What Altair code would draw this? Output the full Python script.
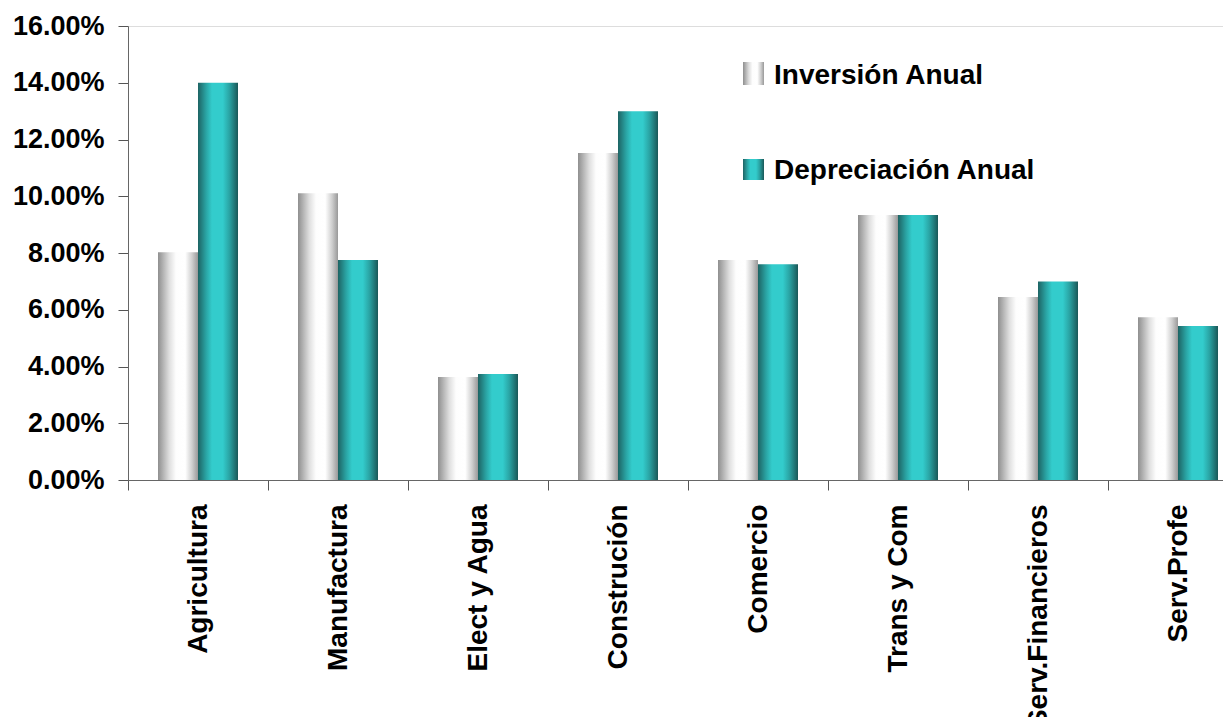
import altair as alt
import pandas as pd

categories = ["Agricultura", "Manufactura", "Elect y Agua", "Construción",
              "Comercio", "Trans y Com", "Serv.Financieros", "Serv.Profe"]
inversion = [0.0803, 0.1011, 0.0363, 0.1152, 0.0775, 0.0934, 0.0645, 0.0574]
depreciacion = [0.1400, 0.0775, 0.0374, 0.1300, 0.0760, 0.0934, 0.0700, 0.0543]
series_names = ["Inversión Anual", "Depreciación Anual"]
y_ticks = [0, 0.02, 0.04, 0.06, 0.08, 0.10, 0.12, 0.14, 0.16]

df = pd.DataFrame({"cat": categories, "inv": inversion, "dep": depreciacion})
legend_df = pd.DataFrame({"name": series_names})

gray_grad = alt.LinearGradient(
    gradient="linear", x1=0, x2=1, y1=0, y2=0,
    stops=[alt.GradientStop(color="#8f8f8f", offset=0),
           alt.GradientStop(color="#dedede", offset=0.28),
           alt.GradientStop(color="#fdfdfd", offset=0.45),
           alt.GradientStop(color="#ffffff", offset=0.68),
           alt.GradientStop(color="#cfcfcf", offset=0.85),
           alt.GradientStop(color="#999999", offset=1)])
teal_grad = alt.LinearGradient(
    gradient="linear", x1=0, x2=1, y1=0, y2=0,
    stops=[alt.GradientStop(color="#1d6363", offset=0),
           alt.GradientStop(color="#2aa3a3", offset=0.2),
           alt.GradientStop(color="#33cccc", offset=0.35),
           alt.GradientStop(color="#33cccc", offset=0.62),
           alt.GradientStop(color="#2aa5a5", offset=0.78),
           alt.GradientStop(color="#1a5858", offset=1)])

FONT = "Liberation Sans"

x_enc = alt.X("cat:N", sort=categories, title=None,
              scale=alt.Scale(paddingInner=0, paddingOuter=0, range=[0, 1120]),
              axis=alt.Axis(labelAngle=-90, labelAlign="right", labelBaseline="middle",
                            labelFont=FONT, labelFontSize=28, labelFontWeight="bold",
                            labelColor="#000000", labelPadding=14, labelLimit=400,
                            tickBand="extent", tickSize=10, tickColor="#555555",
                            domainColor="#666666", grid=False))
y_scale = alt.Scale(domain=[0, 0.16], nice=False)
y_axis = alt.Axis(format=".2%", values=y_ticks, title=None, grid=False,
                  labelFont=FONT, labelFontSize=27, labelFontWeight="bold",
                  labelColor="#000000", labelPadding=14, tickSize=10,
                  tickColor="#555555", domainColor="#666666")

bars_inv = alt.Chart(df).mark_bar(color=gray_grad, width=40, xOffset=-20).encode(
    x=x_enc, y=alt.Y("inv:Q", scale=y_scale, axis=y_axis))
bars_dep = alt.Chart(df).mark_bar(color=teal_grad, width=40, xOffset=20).encode(
    x=x_enc, y=alt.Y("dep:Q", scale=y_scale, axis=y_axis))

leg1 = alt.Chart(legend_df.iloc[[0]]).mark_rect(color=gray_grad).encode(
    x=alt.value(615), x2=alt.value(636), y=alt.value(36), y2=alt.value(59))
leg2 = alt.Chart(legend_df.iloc[[1]]).mark_rect(color=teal_grad).encode(
    x=alt.value(615), x2=alt.value(636), y=alt.value(133), y2=alt.value(154))
leg1t = alt.Chart(legend_df.iloc[[0]]).mark_text(
    align="left", baseline="middle", font=FONT, fontSize=28, fontWeight="bold",
    color="#000000").encode(x=alt.value(646), y=alt.value(50), text="name:N")
leg2t = alt.Chart(legend_df.iloc[[1]]).mark_text(
    align="left", baseline="middle", font=FONT, fontSize=28, fontWeight="bold",
    color="#000000").encode(x=alt.value(646), y=alt.value(145), text="name:N")

chart = alt.layer(bars_inv, bars_dep, leg1, leg2, leg1t, leg2t).properties(
    width=1095, height=454,
    autosize=alt.AutoSizeParams(type="none"),
    padding={"left": 120, "top": 18, "right": 0, "bottom": 237},
).configure_view(stroke=None).configure(background="#ffffff")

chart.save("out.html", embed_options={"renderer": "svg", "actions": False})
